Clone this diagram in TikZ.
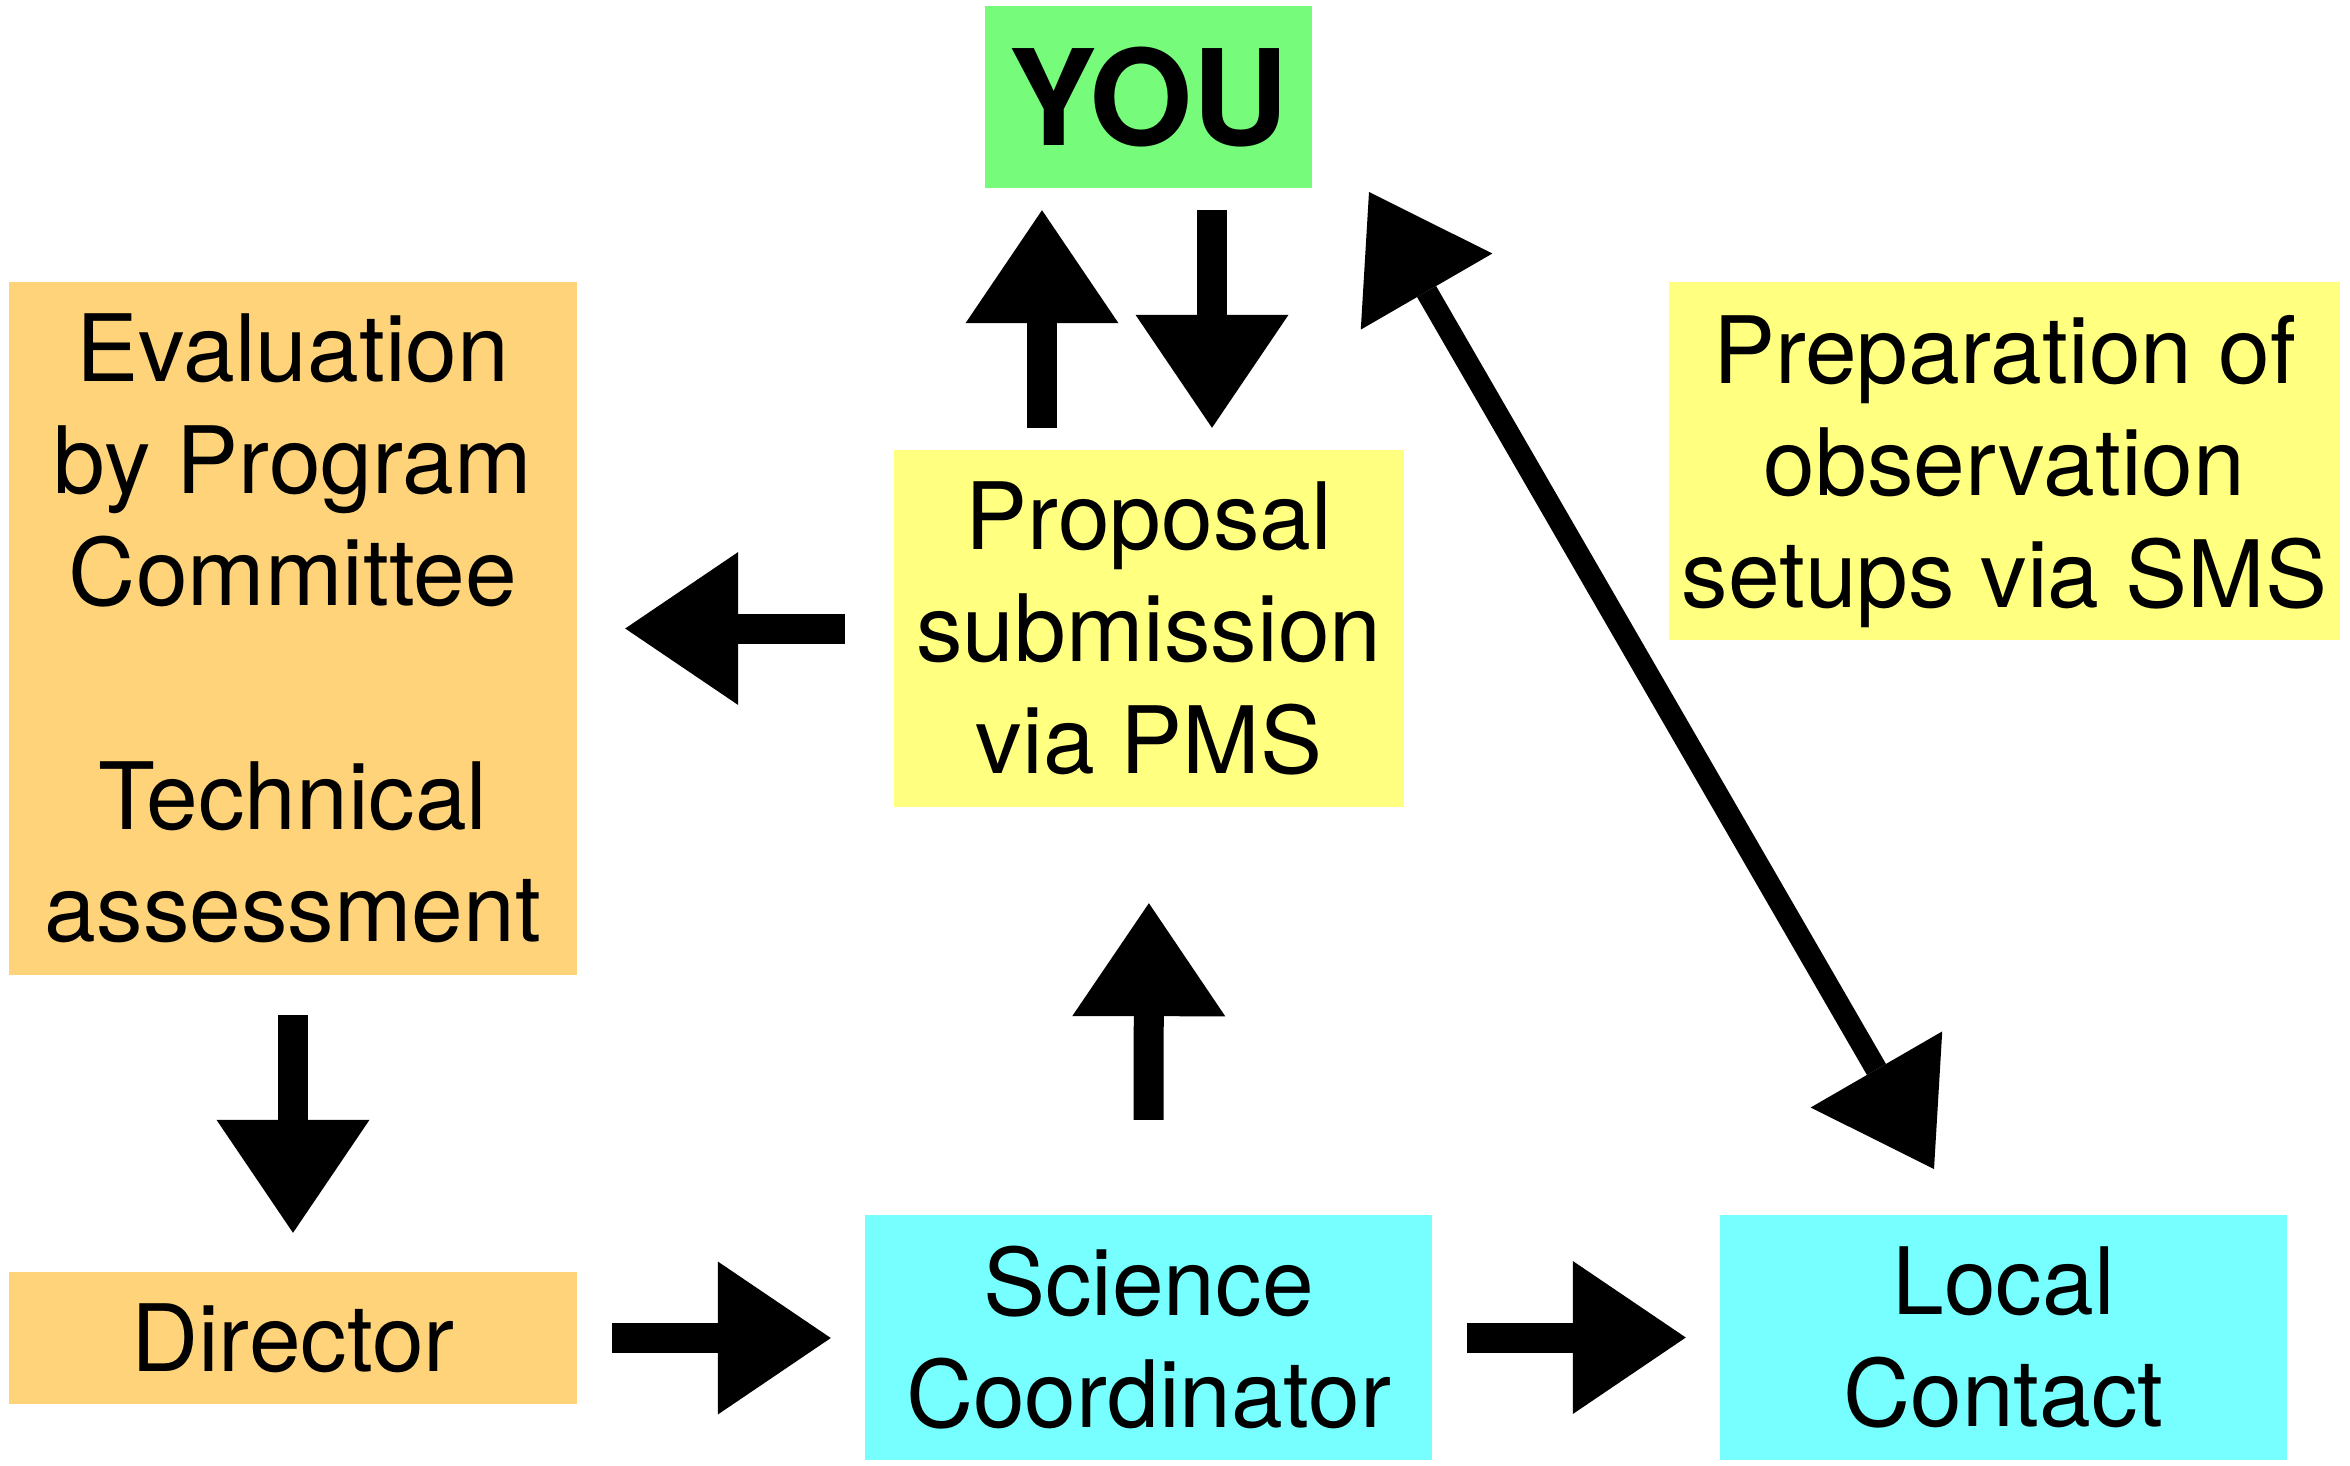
\documentclass[tikz,border=0pt]{standalone}
\usepackage{fontspec}
\setmainfont{TeX Gyre Heros}
\usetikzlibrary{arrows.meta}
\definecolor{cgreen}{RGB}{118,251,122}
\definecolor{corange}{RGB}{254,211,122}
\definecolor{cyellow}{RGB}{255,255,128}
\definecolor{ccyan}{RGB}{118,255,254}
\begin{document}
\begin{tikzpicture}[x=1pt,y=-1pt,
  box/.style={inner sep=0pt, align=center, font=\fontsize{93}{112}\selectfont},
  bigarrow/.style={line width=30pt, -{Triangle[length=113pt,width=153pt,line width=0pt]}},
  diagarrow/.style={line width=22pt, {Triangle[length=115pt,width=152pt,line width=0pt]}-{Triangle[length=115pt,width=152pt,line width=0pt]}}]
\useasboundingbox (0,0) rectangle (2350,1465);
\node[box, fill=cgreen, minimum width=327pt, minimum height=182pt, font=\fontsize{133}{150}\selectfont\bfseries] (you) at (1148.5,97) {YOU};
\node[box, fill=corange, minimum width=568pt, minimum height=693pt] (eval) at (293,628.5) {Evaluation\\by Program\\Committee\\[112pt]Technical\\assessment};
\node[box, fill=cyellow, minimum width=510pt, minimum height=357pt] (prop) at (1149,628.5) {Proposal\\submission\\via PMS};
\node[box, fill=cyellow, minimum width=671pt, minimum height=358pt, text depth=0pt] (prep) at (2004.5,461) {Preparation of\\observation\\setups via SMS};
\node[box, fill=corange, minimum width=568pt, minimum height=132pt] (dir) at (293,1338) {Director};
\node[box, fill=ccyan, minimum width=567pt, minimum height=245pt] (sci) at (1148.5,1337.5) {Science\\Coordinator};
\node[box, fill=ccyan, minimum width=567pt, minimum height=245pt] (loc) at (2003.5,1337.5) {Local\\Contact};
\coordinate (dtop) at (1369,192);
\coordinate (dbot) at (1934,1169);
\draw[bigarrow, shorten <=22pt, shorten >=22pt] ([xshift=-107pt]prop.north) -- ([xshift=-106.5pt]you.south);
\draw[bigarrow, shorten <=22pt, shorten >=22pt] ([xshift=63.5pt]you.south) -- ([xshift=63pt]prop.north);
\draw[bigarrow, shorten <=49pt, shorten >=48pt] (prop.west) -- (eval.east);
\draw[bigarrow, shorten <=40pt, shorten >=39pt] (eval.south) -- (dir.north);
\draw[bigarrow, shorten <=95pt, shorten >=96pt] (sci.north) -- (prop.south);
\draw[bigarrow, shorten <=35pt, shorten >=34pt] (dir.east) -- (dir.east -| sci.west);
\draw[bigarrow, shorten <=35pt, shorten >=34pt] (sci.east) -- (loc.west);
\draw[diagarrow] (dtop) -- (dbot);
\end{tikzpicture}
\end{document}
